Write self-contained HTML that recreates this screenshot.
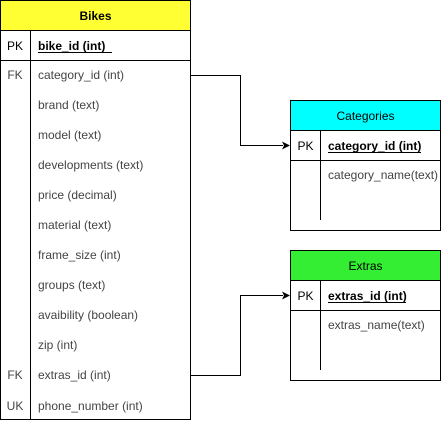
<!DOCTYPE html>
<html><head><meta charset="utf-8"><style>
html,body{margin:0;padding:0;background:#fff;}
svg{display:block;}
text{font-family:"Liberation Sans",Arial,sans-serif;font-size:12px;fill:#000;}
.g{fill:#444;}
line,rect,polyline{shape-rendering:crispEdges;}
</style></head><body>
<svg width="441" height="421" viewBox="0 0 441 421" xmlns="http://www.w3.org/2000/svg">
<!-- Bikes -->
<rect x="0.5" y="0.5" width="190" height="30" fill="#ffff33" stroke="#000"/>
<text x="95.5" y="20" text-anchor="middle" style="font-weight:bold">Bikes</text>
<rect x="0.5" y="30.5" width="190" height="389" fill="#fff" stroke="#000"/>
<line x1="0.5" y1="60.5" x2="190.5" y2="60.5" stroke="#000"/>
<line x1="30.5" y1="30.5" x2="30.5" y2="419.5" stroke="#000"/>
<text x="15" y="50" text-anchor="middle">PK</text>
<text x="38" y="50" style="font-weight:bold">bike_id (int)</text>
<line x1="38" y1="52.5" x2="112" y2="52.5" stroke="#000"/>
<text x="15" y="79" text-anchor="middle" class="g">FK</text>
<text x="38" y="79" class="g">category_id  (int)</text>
<text x="38" y="109" class="g">brand (text)</text>
<text x="38" y="139" class="g">model (text)</text>
<text x="38" y="169" class="g">developments (text)</text>
<text x="38" y="199" class="g">price (decimal)</text>
<text x="38" y="229" class="g">material (text)</text>
<text x="38" y="259" class="g">frame_size (int)</text>
<text x="38" y="289" class="g">groups (text)</text>
<text x="38" y="319" class="g">avaibility (boolean)</text>
<text x="38" y="349" class="g">zip (int)</text>
<text x="15" y="379" text-anchor="middle" class="g">FK</text>
<text x="38" y="379" class="g">extras_id (int)</text>
<text x="15" y="410" text-anchor="middle" class="g">UK</text>
<text x="38" y="410" class="g">phone_number (int)</text>

<!-- Categories -->
<rect x="290.5" y="100.5" width="150" height="30" fill="#00ffff" stroke="#000"/>
<text x="365.5" y="120" text-anchor="middle">Categories</text>
<rect x="290.5" y="130.5" width="150" height="100" fill="#fff" stroke="#000"/>
<line x1="290.5" y1="160.5" x2="440.5" y2="160.5" stroke="#000"/>
<line x1="320.5" y1="130.5" x2="320.5" y2="220" stroke="#000"/>
<text x="305.5" y="150" text-anchor="middle">PK</text>
<text x="328" y="150" style="font-weight:bold">category_id (int)</text>
<line x1="328" y1="152.5" x2="421" y2="152.5" stroke="#000"/>
<text x="328" y="179" class="g">category_name(text)</text>

<!-- Extras -->
<rect x="290.5" y="250.5" width="150" height="30" fill="#33ee33" stroke="#000"/>
<text x="365.5" y="270" text-anchor="middle">Extras</text>
<rect x="290.5" y="280.5" width="150" height="100" fill="#fff" stroke="#000"/>
<line x1="290.5" y1="310.5" x2="440.5" y2="310.5" stroke="#000"/>
<line x1="320.5" y1="280.5" x2="320.5" y2="370" stroke="#000"/>
<text x="305.5" y="300" text-anchor="middle">PK</text>
<text x="328" y="300" style="font-weight:bold">extras_id (int)</text>
<line x1="328" y1="302.5" x2="406" y2="302.5" stroke="#000"/>
<text x="328" y="329" class="g">extras_name(text)</text>

<!-- connectors -->
<polyline points="190.5,75.5 240.5,75.5 240.5,145.5 283,145.5" fill="none" stroke="#000"/>
<polygon points="290,145.5 282,141.5 284,145.5 282,149.5" fill="#000"/>
<polyline points="190.5,375.5 240.5,375.5 240.5,295.5 283,295.5" fill="none" stroke="#000"/>
<polygon points="290,295.5 282,291.5 284,295.5 282,299.5" fill="#000"/>
</svg>
</body></html>
